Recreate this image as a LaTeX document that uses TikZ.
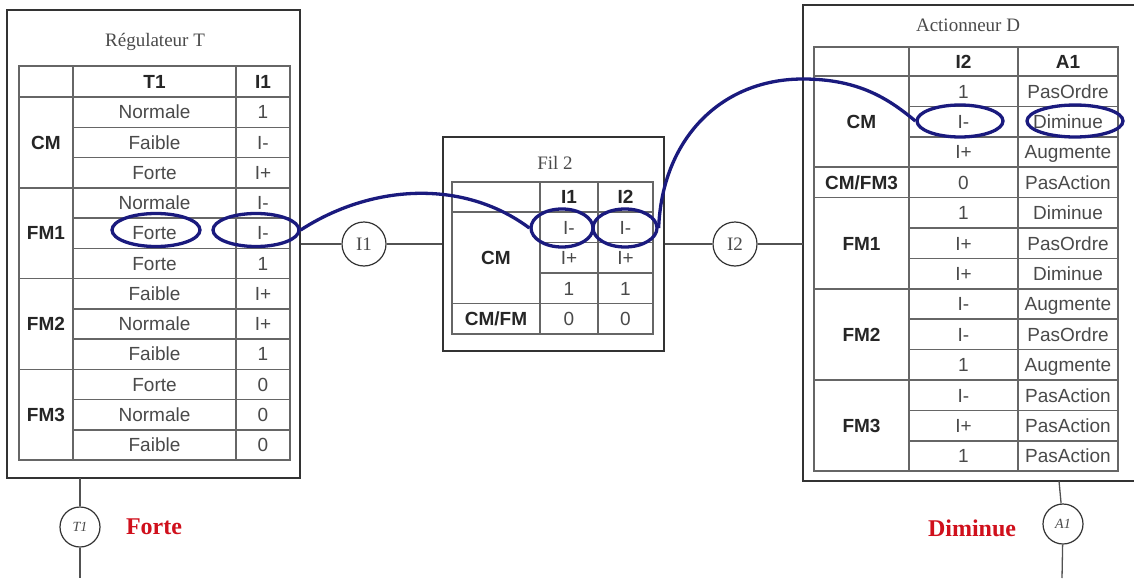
\documentclass[tikz,border=0pt]{standalone}
\usepackage{fontspec}
\setmainfont{Liberation Serif}
\setsansfont{Liberation Sans}
\usetikzlibrary{shapes.geometric}
\definecolor{navy}{HTML}{1A1A7E}
\definecolor{gridc}{HTML}{666666}
\definecolor{boxc}{HTML}{333333}
\definecolor{txtc}{HTML}{4A4A4A}
\definecolor{redc}{HTML}{D0101C}
\tikzset{
  cell/.style={font=\sffamily\fontsize{19}{22}\selectfont, text=txtc, inner sep=0pt, text height=13.6pt, text depth=0pt},
  hcell/.style={font=\sffamily\bfseries\fontsize{19}{22}\selectfont, text=black!85, inner sep=0pt, text height=13.6pt, text depth=0pt},
  boxtitle/.style={font=\fontsize{19}{22}\selectfont, text=txtc, inner sep=0pt},
  outerbox/.style={draw=boxc, line width=1.3pt, inner sep=0pt},
  gridline/.style={draw=gridc, line width=1.5pt},
  tableborder/.style={draw=gridc, line width=2pt},
  wire/.style={draw=boxc!85, line width=1.3pt},
  varcircle/.style={circle, draw=boxc, line width=1.2pt, minimum size=44pt, inner sep=0pt, font=\fontsize{19}{20}\selectfont, text=txtc},
  smallcircle/.style={circle, draw=boxc, line width=1.2pt, minimum size=40pt, inner sep=0pt, font=\itshape\fontsize{14}{16}\selectfont, text=txtc},
  hl/.style={ellipse, draw=navy, line width=3.3pt, inner sep=0pt},
  hlcurve/.style={draw=navy, line width=3.3pt},
  result/.style={font=\bfseries\fontsize{24}{26}\selectfont, text=redc, inner sep=0pt},
}
\begin{document}
\begin{tikzpicture}[x=1pt,y=-1pt]
\useasboundingbox (0,0) rectangle (1134,578);
\fill[white] (0,0) rectangle (1134,578);

% ---------- outer boxes ----------
\node[outerbox, minimum width=293pt, minimum height=468pt] (boxL) at (153.5,244) {};
\node[outerbox, minimum width=221pt, minimum height=214pt] (boxM) at (553.5,244) {};
\draw[draw=boxc, line width=1.3pt] (1136,5) -- (803,5) -- (803,481) -- (1136,481);
\coordinate (boxRw) at (803,244);

\node[boxtitle] (titL) at (155,42) {Régulateur T};
\node[boxtitle] (titM) at (555,163) {Fil 2};
\node[boxtitle] (titR) at (968,25) {Actionneur D};

% ---------- left table ----------
\foreach \i in {1,2,4,5,7,8,10,11}
  \draw[gridline] (73,{97+\i*30.25}) -- (290,{97+\i*30.25});
\foreach \i in {3,6,9}
  \draw[gridline] (19,{97+\i*30.25}) -- (290,{97+\i*30.25});
\draw[gridline] (19,97) -- (290,97);
\draw[gridline] (73,66) -- (73,460);
\draw[gridline] (236,66) -- (236,460);
\draw[tableborder] (19,66) rectangle (290,460);

\node[hcell] (lhT) at (154.5,81.5) {T1};
\node[hcell] (lhI) at (263,81.5) {I1};
\foreach \t [count=\i] in {Normale,Faible,Forte,Normale,Forte,Forte,Faible,Normale,Faible,Forte,Normale,Faible}
  \node[cell] (lt\i) at (154.5,{97+(\i-0.5)*30.25}) {\t};
\foreach \t [count=\i] in {1,I-,I+,I-,I-,1,I+,I+,1,0,0,0}
  \node[cell] (lv\i) at (263,{97+(\i-0.5)*30.25}) {\t};
\foreach \t [count=\i] in {CM,FM1,FM2,FM3}
  \node[hcell] (lg\i) at (46,{97+(3*\i-1.5)*30.25}) {\t};

% ---------- middle table ----------
\foreach \i in {1,2}
  \draw[gridline] (540,{212+\i*30.5}) -- (653,{212+\i*30.5});
\draw[gridline] (452,303.5) -- (653,303.5);
\draw[gridline] (452,212) -- (653,212);
\draw[gridline] (540,182) -- (540,334);
\draw[gridline] (598,182) -- (598,334);
\draw[tableborder] (452,182) rectangle (653,334);

\node[hcell] (mh1) at (569,197) {I1};
\node[hcell] (mh2) at (625.5,197) {I2};
\foreach \t [count=\i] in {I-,I+,1,0}
  \node[cell] (ma\i) at (569,{212+(\i-0.5)*30.5}) {\t};
\foreach \t [count=\i] in {I-,I+,1,0}
  \node[cell] (mb\i) at (625.5,{212+(\i-0.5)*30.5}) {\t};
\node[hcell] (mg1) at (496,257.75) {CM};
\node[hcell] (mg2) at (496,318.75) {CM/FM};

% ---------- right table ----------
\foreach \i in {1,2,5,6,8,9,11,12}
  \draw[gridline] (909,{76+\i*30.4}) -- (1118,{76+\i*30.4});
\foreach \i in {3,4,7,10}
  \draw[gridline] (814,{76+\i*30.4}) -- (1118,{76+\i*30.4});
\draw[gridline] (814,76) -- (1118,76);
\draw[gridline] (909,47) -- (909,471.2);
\draw[gridline] (1018,47) -- (1018,471.2);
\draw[tableborder] (814,47) rectangle (1118,471.2);

\node[hcell] (rhI) at (963.5,61.5) {I2};
\node[hcell] (rhA) at (1068,61.5) {A1};
\foreach \t [count=\i] in {1,I-,I+,0,1,I+,I+,I-,I-,1,I-,I+,1}
  \node[cell] (rv\i) at (963.5,{76+(\i-0.5)*30.4}) {\t};
\foreach \t [count=\i] in {PasOrdre,Diminue,Augmente,PasAction,Diminue,PasOrdre,Diminue,Augmente,PasOrdre,Augmente,PasAction,PasAction,PasAction}
  \node[cell] (ra\i) at (1068,{76+(\i-0.5)*30.4}) {\t};
\node[hcell] (rg1) at (861.5,121.6) {CM};
\node[hcell] (rg2) at (861.5,182.4) {CM/FM3};
\node[hcell] (rg3) at (861.5,243.2) {FM1};
\node[hcell] (rg4) at (861.5,334.4) {FM2};
\node[hcell] (rg5) at (861.5,425.6) {FM3};

% ---------- variable circles and wires ----------
\node[varcircle] (I1) at (364,244) {I1};
\node[varcircle] (I2) at (735,244) {I2};
\draw[wire] (boxL.east) -- (I1) -- (boxM.west);
\draw[wire] (boxM.east) -- (I2) -- (boxRw);

\node[smallcircle] (T1) at (80,527) {T1};
\coordinate (ltop) at (80,478);
\coordinate (lbot) at (80,578);
\draw[wire] (ltop) -- (T1) -- (lbot);
\node[smallcircle] (A1) at (1063,524) {A1};
\coordinate (rtop) at (1059,481);
\coordinate (rbot) at (1062,578);
\draw[wire] (rtop) -- (A1) -- (rbot);

\node[result] (resT) at (154,527) {Forte};
\node[result] (resA) at (972,528) {Diminue};

% ---------- highlights ----------
\node[hl, minimum width=88pt, minimum height=33pt] (eL1) at (156,230) {};
\node[hl, minimum width=86pt, minimum height=33pt] (eL2) at (256,230) {};
\node[hl, minimum width=62pt, minimum height=38pt] (eM1) at (562,228) {};
\node[hl, minimum width=64pt, minimum height=38pt] (eM2) at (625,228) {};
\node[hl, minimum width=86pt, minimum height=32pt] (eR1) at (960,121) {};
\node[hl, minimum width=96pt, minimum height=32pt] (eR2) at (1075,121) {};

\coordinate (peak) at (803,79);
\draw[hlcurve] (eL2.east) .. controls (370,185) and (462,178) .. (eM1.west);
\draw[hlcurve] (eM2.east) .. controls (662,140) and (720,79) .. (peak)
  .. controls (860,79) and (890,100) .. (eR1.west);
\end{tikzpicture}
\end{document}
